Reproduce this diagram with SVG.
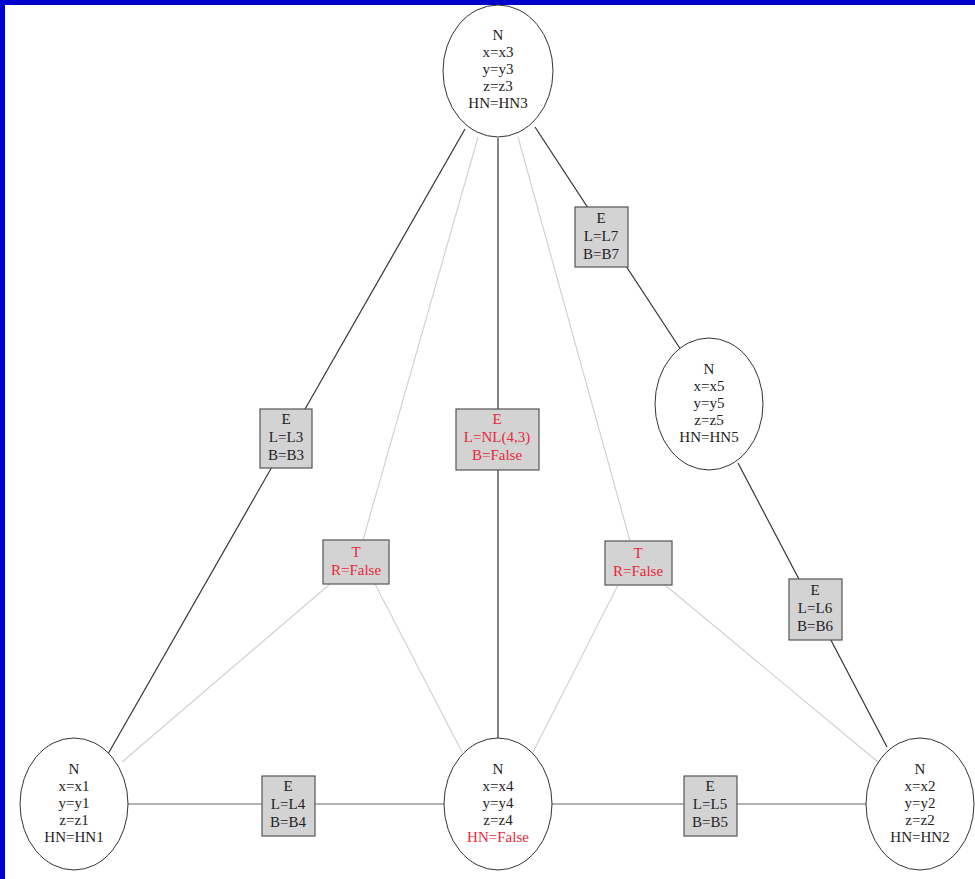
<svg xmlns="http://www.w3.org/2000/svg" width="975" height="879" viewBox="0 0 975 879">
  <style>
    text { font-family: "Liberation Serif", "Times New Roman", serif; font-size: 15px; text-anchor: middle; fill: #222; }
    .red { fill: #e8283c; }
    .node { fill: #fff; stroke: #333; stroke-width: 1; }
    .box { fill: #d3d3d3; stroke: #555; stroke-width: 1.2; }
    .edge { stroke: #333; stroke-width: 1.2; fill: none; }
    .flat { stroke: #999; stroke-width: 1.6; fill: none; }
    .tri { stroke: #cfcfcf; stroke-width: 1.1; fill: none; }
  </style>
  <rect x="0" y="0" width="975" height="879" fill="#fff"/>
  <!-- frame -->
  <rect x="0" y="0" width="975" height="5" fill="#0000cc"/>
  <rect x="0" y="0" width="5" height="879" fill="#0000cc"/>

  <g id="connectors">
    <!-- triangle (T) links -->
    <line class="tri" x1="478" y1="137" x2="363" y2="540"/>
    <line class="tri" x1="330" y1="584" x2="122" y2="762"/>
    <line class="tri" x1="375" y1="584" x2="462" y2="752"/>
    <line class="tri" x1="518" y1="137" x2="630" y2="541"/>
    <line class="tri" x1="618" y1="585" x2="532" y2="754"/>
    <line class="tri" x1="665" y1="585" x2="878" y2="762"/>
    <!-- edge links -->
    <line class="edge" x1="465" y1="129" x2="108" y2="754"/>
    <line class="edge" x1="498" y1="138" x2="498" y2="738"/>
    <line class="edge" x1="535" y1="127" x2="681" y2="350"/>
    <line class="edge" x1="738" y1="463" x2="887" y2="747"/>
    <line class="flat" x1="128" y1="804" x2="444" y2="804"/>
    <line class="flat" x1="552" y1="804" x2="866" y2="804"/>
  </g>

  <g id="n3">
    <ellipse class="node" cx="498" cy="71" rx="55" ry="66"/>
    <text x="498" y="40">N</text>
    <text x="498" y="57">x=x3</text>
    <text x="498" y="74">y=y3</text>
    <text x="498" y="91">z=z3</text>
    <text x="498" y="108">HN=HN3</text>
  </g>
  <g id="n5">
    <ellipse class="node" cx="709" cy="404" rx="54" ry="66"/>
    <text x="709" y="374">N</text>
    <text x="709" y="391">x=x5</text>
    <text x="709" y="408">y=y5</text>
    <text x="709" y="425">z=z5</text>
    <text x="709" y="442">HN=HN5</text>
  </g>
  <g id="n1">
    <ellipse class="node" cx="74" cy="804" rx="54" ry="66"/>
    <text x="74" y="774">N</text>
    <text x="74" y="791">x=x1</text>
    <text x="74" y="808">y=y1</text>
    <text x="74" y="825">z=z1</text>
    <text x="74" y="842">HN=HN1</text>
  </g>
  <g id="n4">
    <ellipse class="node" cx="498" cy="804" rx="54" ry="66"/>
    <text x="498" y="774">N</text>
    <text x="498" y="791">x=x4</text>
    <text x="498" y="808">y=y4</text>
    <text x="498" y="825">z=z4</text>
    <text x="498" y="842" class="red">HN=False</text>
  </g>
  <g id="n2">
    <ellipse class="node" cx="920" cy="804" rx="54" ry="66"/>
    <text x="920" y="774">N</text>
    <text x="920" y="791">x=x2</text>
    <text x="920" y="808">y=y2</text>
    <text x="920" y="825">z=z2</text>
    <text x="920" y="842">HN=HN2</text>
  </g>

  <g id="e3">
    <rect class="box" x="260" y="409" width="52" height="59"/>
    <text x="286" y="424">E</text>
    <text x="286" y="442">L=L3</text>
    <text x="286" y="460">B=B3</text>
  </g>
  <g id="e43">
    <rect class="box" x="456" y="409" width="83" height="61"/>
    <text x="497" y="424" class="red">E</text>
    <text x="497" y="442" class="red">L=NL(4,3)</text>
    <text x="497" y="460" class="red">B=False</text>
  </g>
  <g id="e7">
    <rect class="box" x="575" y="207" width="53" height="60"/>
    <text x="601" y="223">E</text>
    <text x="601" y="241">L=L7</text>
    <text x="601" y="259">B=B7</text>
  </g>
  <g id="e6">
    <rect class="box" x="789" y="579" width="53" height="61"/>
    <text x="815" y="595">E</text>
    <text x="815" y="613">L=L6</text>
    <text x="815" y="631">B=B6</text>
  </g>
  <g id="e4">
    <rect class="box" x="262" y="776" width="53" height="60"/>
    <text x="288" y="791">E</text>
    <text x="288" y="809">L=L4</text>
    <text x="288" y="827">B=B4</text>
  </g>
  <g id="e5">
    <rect class="box" x="684" y="776" width="53" height="60"/>
    <text x="710" y="791">E</text>
    <text x="710" y="809">L=L5</text>
    <text x="710" y="827">B=B5</text>
  </g>
  <g id="t1">
    <rect class="box" x="323" y="540" width="66" height="44"/>
    <text x="356" y="557" class="red">T</text>
    <text x="356" y="575" class="red">R=False</text>
  </g>
  <g id="t2">
    <rect class="box" x="605" y="541" width="67" height="44"/>
    <text x="638" y="558" class="red">T</text>
    <text x="638" y="576" class="red">R=False</text>
  </g>
</svg>
